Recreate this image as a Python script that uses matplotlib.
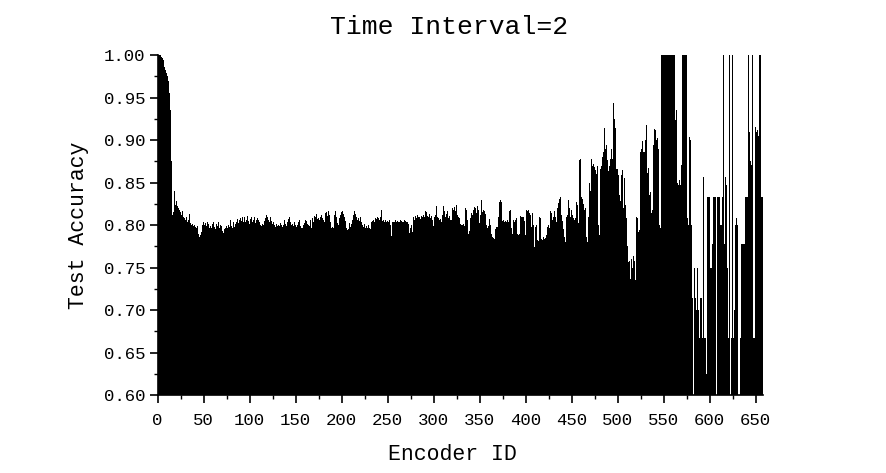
import numpy as np
import matplotlib
matplotlib.use("Agg")
import matplotlib.pyplot as plt
from matplotlib.ticker import MultipleLocator

title = "Time Interval=2"
x_label = "Encoder ID"
y_label = "Test Accuracy"
x_ticks = [0, 50, 100, 150, 200, 250, 300, 350, 400, 450, 500, 550, 600, 650]
y_ticks = [0.60, 0.65, 0.70, 0.75, 0.80, 0.85, 0.90, 0.95, 1.00]

acc_001_120 = [
    1.000, 1.000, 1.000, 0.998, 0.996, 0.994, 0.990, 0.986, 0.982, 0.979,
    0.975, 0.969, 0.955, 0.935, 0.875, 0.812, 0.815, 0.840, 0.826, 0.823,
    0.828, 0.822, 0.820, 0.818, 0.815, 0.812, 0.816, 0.810, 0.808, 0.806,
    0.809, 0.805, 0.803, 0.806, 0.813, 0.802, 0.800, 0.801, 0.799, 0.800,
    0.798, 0.797, 0.799, 0.794, 0.790, 0.786, 0.788, 0.792, 0.800, 0.803,
    0.800, 0.802, 0.799, 0.803, 0.801, 0.797, 0.802, 0.799, 0.796, 0.801,
    0.804, 0.798, 0.795, 0.801, 0.799, 0.803, 0.797, 0.800, 0.805, 0.799,
    0.793, 0.791, 0.795, 0.797, 0.799, 0.796, 0.800, 0.798, 0.806, 0.799,
    0.797, 0.800, 0.803, 0.798, 0.801, 0.804, 0.807, 0.802, 0.806, 0.808,
    0.805, 0.810, 0.804, 0.807, 0.809, 0.803, 0.806, 0.811, 0.805, 0.801,
    0.807, 0.810, 0.804, 0.806, 0.810, 0.802, 0.799, 0.806, 0.808, 0.806,
    0.803, 0.800, 0.799, 0.801, 0.800, 0.805, 0.808, 0.812, 0.807, 0.810,
]
acc_121_240 = [
    0.806, 0.803, 0.809, 0.805, 0.801, 0.804, 0.800, 0.798, 0.801, 0.799,
    0.800, 0.797, 0.799, 0.802, 0.800, 0.798, 0.800, 0.806, 0.801, 0.799,
    0.803, 0.807, 0.809, 0.805, 0.803, 0.800, 0.801, 0.799, 0.803, 0.800,
    0.798, 0.800, 0.804, 0.806, 0.799, 0.796, 0.798, 0.797, 0.800, 0.802,
    0.806, 0.805, 0.801, 0.800, 0.799, 0.806, 0.797, 0.808, 0.810, 0.803,
    0.811, 0.809, 0.813, 0.807, 0.808, 0.806, 0.810, 0.812, 0.808, 0.806,
    0.804, 0.810, 0.814, 0.815, 0.811, 0.816, 0.812, 0.803, 0.797, 0.798,
    0.796, 0.812, 0.816, 0.807, 0.810, 0.802, 0.800, 0.808, 0.812, 0.815,
    0.816, 0.813, 0.809, 0.805, 0.796, 0.794, 0.797, 0.795, 0.802, 0.798,
    0.801, 0.806, 0.812, 0.816, 0.813, 0.810, 0.806, 0.808, 0.804, 0.805,
    0.810, 0.804, 0.800, 0.798, 0.801, 0.797, 0.799, 0.796, 0.800, 0.797,
    0.795, 0.791, 0.803, 0.805, 0.806, 0.804, 0.808, 0.807, 0.809, 0.808,
]
acc_241_360 = [
    0.806, 0.810, 0.818, 0.807, 0.805, 0.806, 0.804, 0.806, 0.803, 0.805,
    0.804, 0.806, 0.800, 0.787, 0.803, 0.804, 0.805, 0.803, 0.806, 0.804,
    0.805, 0.803, 0.804, 0.806, 0.805, 0.803, 0.804, 0.806, 0.802, 0.805,
    0.803, 0.804, 0.801, 0.791, 0.797, 0.800, 0.792, 0.810, 0.806, 0.811,
    0.808, 0.810, 0.812, 0.809, 0.810, 0.807, 0.811, 0.809, 0.812, 0.810,
    0.816, 0.815, 0.811, 0.812, 0.810, 0.813, 0.808, 0.811, 0.806, 0.799,
    0.809, 0.812, 0.822, 0.810, 0.808, 0.806, 0.809, 0.807, 0.804, 0.812,
    0.822, 0.816, 0.810, 0.813, 0.816, 0.808, 0.811, 0.806, 0.809, 0.806,
    0.820, 0.818, 0.821, 0.817, 0.823, 0.812, 0.809, 0.808, 0.801, 0.800,
    0.800, 0.803, 0.801, 0.799, 0.820, 0.818, 0.806, 0.790, 0.793, 0.808,
    0.814, 0.812, 0.818, 0.816, 0.821, 0.820, 0.814, 0.822, 0.818, 0.802,
    0.812, 0.829, 0.815, 0.818, 0.816, 0.813, 0.798, 0.800, 0.797, 0.799,
]
acc_361_480 = [
    0.807, 0.800, 0.790, 0.786, 0.785, 0.784, 0.795, 0.798, 0.797, 0.798,
    0.810, 0.827, 0.830, 0.827, 0.805, 0.806, 0.804, 0.805, 0.804, 0.806,
    0.804, 0.805, 0.816, 0.818, 0.796, 0.790, 0.806, 0.804, 0.806, 0.808,
    0.790, 0.788, 0.789, 0.810, 0.811, 0.810, 0.809, 0.810, 0.805, 0.788,
    0.818, 0.816, 0.818, 0.814, 0.812, 0.798, 0.811, 0.814, 0.800, 0.774,
    0.798, 0.800, 0.782, 0.781, 0.810, 0.808, 0.784, 0.782, 0.780, 0.786,
    0.783, 0.785, 0.788, 0.798, 0.800, 0.797, 0.816, 0.814, 0.806, 0.810,
    0.816, 0.811, 0.810, 0.804, 0.820, 0.826, 0.831, 0.833, 0.812, 0.805,
    0.795, 0.786, 0.780, 0.812, 0.810, 0.812, 0.829, 0.820, 0.810, 0.818,
    0.812, 0.808, 0.806, 0.808, 0.827, 0.824, 0.800, 0.802, 0.876, 0.878,
    0.833, 0.831, 0.825, 0.818, 0.820, 0.786, 0.780, 0.810, 0.845, 0.850,
    0.840, 0.878, 0.870, 0.872, 0.868, 0.865, 0.860, 0.870, 0.800, 0.788,
]
acc_481_600 = [
    0.866, 0.896, 0.870, 0.880, 0.886, 0.914, 0.890, 0.894, 0.876, 0.863,
    0.870, 0.878, 0.890, 0.885, 0.878, 0.943, 0.925, 0.914, 0.866, 0.866,
    0.859, 0.835, 0.828, 0.859, 0.865, 0.820, 0.840, 0.855, 0.824, 0.808,
    0.775, 0.757, 0.758, 0.737, 0.760, 0.749, 0.763, 0.758, 0.737, 0.735,
    0.810, 0.808, 0.792, 0.794, 0.886, 0.890, 0.899, 0.886, 0.886, 0.900,
    0.918, 0.922, 0.861, 0.867, 0.835, 0.839, 0.814, 0.818, 0.894, 0.913,
    0.912, 0.900, 0.902, 0.894, 0.890, 0.800, 0.796, 1.000, 1.000, 1.000,
    1.000, 1.000, 1.000, 1.000, 1.000, 1.000, 0.500, 1.000, 1.000, 1.000,
    1.000, 1.000, 0.924, 0.935, 0.849, 0.847, 0.853, 0.847, 0.869, 0.871,
    1.000, 1.000, 1.000, 1.000, 1.000, 0.808, 0.800, 0.904, 0.900, 0.800,
    0.714, 0.714, 0.500, 0.750, 0.714, 0.700, 0.750, 0.700, 0.667, 0.714,
    0.714, 0.667, 0.857, 0.857, 0.667, 0.667, 0.625, 0.833, 0.833, 0.833,
]
acc_601_658 = [
    0.750, 0.750, 0.778, 0.833, 0.833, 0.833, 0.889, 0.500, 0.833, 0.833,
    0.833, 0.800, 0.800, 0.833, 1.000, 0.778, 0.857, 0.847, 1.000, 0.750,
    0.667, 1.000, 0.500, 0.667, 1.000, 0.667, 0.700, 0.800, 0.808, 0.800,
    0.500, 0.667, 0.500, 0.667, 0.778, 0.778, 0.778, 0.778, 0.833, 0.833,
    0.833, 1.000, 0.910, 0.905, 0.875, 0.871, 1.000, 0.667, 0.667, 0.915,
    0.910, 0.912, 0.905, 1.000, 1.000, 0.833, 1.000, 0.833,
]

accuracy = np.array(acc_001_120 + acc_121_240 + acc_241_360
                    + acc_361_480 + acc_481_600 + acc_601_658)
encoder_id = np.arange(1, len(accuracy) + 1)

font = "Liberation Mono"
plt.rcParams["font.family"] = [font, "DejaVu Sans"]

fig = plt.figure(figsize=(8.86, 4.73), dpi=100)
ax = fig.add_axes([0.1778, 0.1649, 0.6838, 0.7188])

ax.bar(encoder_id, accuracy, width=1.0, color="black", linewidth=0)

ax.set_xlim(0, 658.5)
ax.set_ylim(0.60, 1.00)
ax.set_xticks(x_ticks)
ax.set_yticks(y_ticks)
ax.set_yticklabels([f"{v:.2f}" for v in y_ticks])
ax.xaxis.set_minor_locator(MultipleLocator(25))
ax.yaxis.set_minor_locator(MultipleLocator(0.025))
ax.tick_params(axis="both", which="major", direction="out", length=6, width=1.2,
               labelsize=12.5, colors="black")
ax.tick_params(axis="x", which="major", pad=7)
ax.tick_params(axis="y", which="major", pad=3)
ax.tick_params(axis="both", which="minor", direction="out", length=3, width=1.0)

for s in ["top", "right"]:
    ax.spines[s].set_visible(False)
for s in ["left", "bottom"]:
    ax.spines[s].set_linewidth(1.2)

ax.set_xlabel(x_label, fontsize=15.5, labelpad=10)
ax.xaxis.set_label_coords(0.487, -0.145)
ax.set_ylabel(y_label, fontsize=15.5)
ax.yaxis.set_label_coords(-0.113, 0.5)
ax.set_title(title, fontsize=19, x=0.481, pad=15)

fig.savefig("out.png", dpi=100)
